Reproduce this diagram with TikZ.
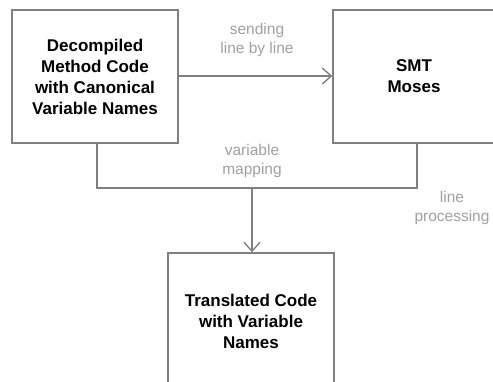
\documentclass[tikz,border=0pt]{standalone}
\usepackage{fontspec}
\setmainfont{Liberation Sans}
\usetikzlibrary{arrows.meta}
\definecolor{linegray}{HTML}{808080}
\definecolor{labelgray}{HTML}{A0A0A0}
\tikzset{
  box/.style={draw=linegray, line width=1.4pt, fill=white, align=center,
    font=\fontsize{17}{21}\selectfont\bfseries, inner sep=0pt},
  conn/.style={draw=linegray, line width=1.4pt},
  arr/.style={conn, -{Straight Barb[length=9pt, width=16pt, line width=1.4pt]}},
  lbl/.style={text=labelgray, align=center, font=\fontsize{15.5}{19}\selectfont}
}
\begin{document}
\begin{tikzpicture}[x=1pt, y=-1pt]
\useasboundingbox (0,0) rectangle (493,382);
\node[box, minimum width=166pt, minimum height=133pt] (b1) at (95,76.5)
  {Decompiled\\Method Code\\with Canonical\\Variable Names};
\node[box, minimum width=162pt, minimum height=133pt] (b2) at (414,76.5)
  {SMT\\Moses};
\node[box, minimum width=166pt, minimum height=136pt] (b3) at (251,321)
  {Translated Code\\with Variable\\Names};
\draw[arr] (b1.east |- 0,76) -- (b2.west |- 0,76);
\coordinate (jl) at (97,188);
\coordinate (jr) at (417,188);
\coordinate (jm) at (252,188);
\draw[conn] (b1.south -| jl) -- (jl) -- (jr) -- (b2.south -| jr);
\draw[arr] (jm) -- (b3.north -| jm);
\node[lbl] (l1) at (257,40) {sending\\line by line};
\node[lbl] (l2) at (252,161) {variable\\mapping};
\node[lbl] (l3) at (452,208) {line\\processing};
\end{tikzpicture}
\end{document}
